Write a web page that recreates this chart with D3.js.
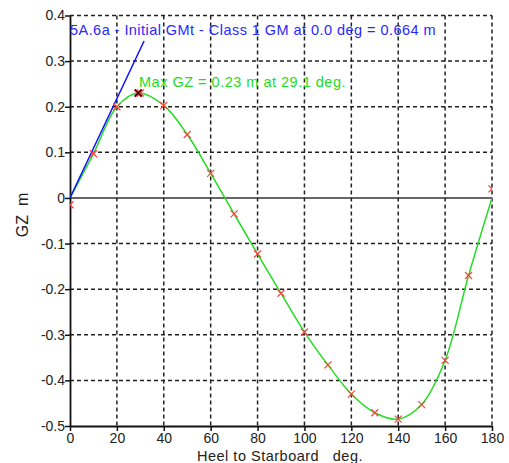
<!DOCTYPE html>
<html>
<head>
<meta charset="utf-8">
<script src="https://cdn.jsdelivr.net/npm/d3@7"></script>
<style>
  body { margin: 0; background: #fff; }
  svg { display: block; font-family: "Liberation Sans", Arial, sans-serif; }
</style>
</head>
<body>
<div id="chart"></div>
<script>
// heel angles (deg) where GZ was sampled, and the GZ values (m)
const heelDeg = [0, 10, 20, 30, 40, 50, 60, 70, 80, 90, 100, 110, 120, 130, 140, 150, 160, 170, 180];
const gzPoints = [-0.015, 0.097, 0.2, 0.23, 0.203, 0.139, 0.054, -0.035, -0.123, -0.209, -0.294,
                  -0.366, -0.43, -0.471, -0.485, -0.453, -0.356, -0.17, 0.02];
// smooth GZ curve nodes
const curveDeg = [0, 10, 20, 29.1, 40, 50, 60, 70, 80, 90, 100, 110, 120, 130, 140, 150, 160, 170, 180];
const curveGz = [0, 0.097, 0.2, 0.23, 0.203, 0.139, 0.054, -0.035, -0.123, -0.209, -0.294,
                 -0.366, -0.43, -0.471, -0.485, -0.453, -0.356, -0.17, 0];
// initial GM line ends
const gmDeg = [0, 31.6];
const gmGz = [0, 0.344];
const maxGz = { deg: 29.1, gz: 0.23 };

const xTicks = [0, 20, 40, 60, 80, 100, 120, 140, 160, 180];
const yTicks = [-0.5, -0.4, -0.3, -0.2, -0.1, 0, 0.1, 0.2, 0.3, 0.4];

const gmLabel = "5A.6a - Initial GMt - Class 1 GM at 0.0 deg = 0.664 m";
const maxLabel = "Max GZ = 0.23 m at 29.1 deg.";
const xTitle = "Heel to Starboard\u00a0\u00a0\u00a0deg.";
const yTitle = "GZ\u00a0\u00a0m";

const W = 509, H = 463;
const svg = d3.select('#chart').append('svg').attr('width', W).attr('height', H);
svg.append('rect').attr('width', W).attr('height', H).attr('fill', '#fff');

const x = d3.scaleLinear().domain([0, 180]).range([70, 492]);
const y = d3.scaleLinear().domain([-0.5, 0.4]).range([426, 15.5]);

// dashed grid
const grid = svg.append('g').attr('stroke', '#222').attr('stroke-width', 1.5)
  .attr('stroke-dasharray', '4,3');
grid.selectAll('line.v').data(xTicks.filter(d => d > 0)).join('line')
  .attr('x1', d => x(d)).attr('x2', d => x(d)).attr('y1', y(0.4)).attr('y2', y(-0.5));
grid.selectAll('line.h').data(yTicks.filter(d => d !== 0 && d > -0.5)).join('line')
  .attr('x1', x(0)).attr('x2', x(180)).attr('y1', d => y(d)).attr('y2', d => y(d));

// zero line
svg.append('line').attr('x1', x(0)).attr('x2', x(180)).attr('y1', y(0)).attr('y2', y(0))
  .attr('stroke', '#333').attr('stroke-width', 1.5);

// axes
const xAxis = svg.append('g').attr('transform', `translate(0,${y(-0.5)})`)
  .call(d3.axisBottom(x).tickValues(xTicks).tickSize(5).tickSizeOuter(0).tickFormat(d3.format('d')));
const yAxis = svg.append('g').attr('transform', `translate(${x(0)},0)`)
  .call(d3.axisLeft(y).tickValues(yTicks).tickSize(5).tickSizeOuter(0).tickFormat(d => d === 0 ? '0' : d3.format('.1f')(d).replace('\u2212', '-')));
[xAxis, yAxis].forEach(a => {
  a.select('.domain').attr('stroke', '#111').attr('stroke-width', 1.8);
  a.selectAll('.tick line').attr('stroke', '#111').attr('stroke-width', 1.5);
  a.selectAll('text').attr('fill', '#222').style('font-size', '14px');
});
xAxis.selectAll('text').attr('dy', '0.9em').attr('y', 4);
yAxis.selectAll('text').attr('x', -5);

// clip for plot
svg.append('clipPath').attr('id', 'plot').append('rect')
  .attr('x', x(0)).attr('y', y(0.4)).attr('width', x(180) - x(0)).attr('height', y(-0.5) - y(0.4));
const plot = svg.append('g').attr('clip-path', 'url(#plot)');

// GZ curve
const line = d3.line().x(d => x(d[0])).y(d => y(d[1])).curve(d3.curveCatmullRom.alpha(0.5));
plot.append('path').datum(curveDeg.map((d, i) => [d, curveGz[i]]))
  .attr('d', line).attr('fill', 'none').attr('stroke', '#22dd22').attr('stroke-width', 1.5);

// GM line
plot.append('path').datum(gmDeg.map((d, i) => [d, gmGz[i]]))
  .attr('d', d3.line().x(d => x(d[0])).y(d => y(d[1])))
  .attr('stroke', '#1010ff').attr('stroke-width', 1.5).attr('fill', 'none');

// markers
const s = 3.5;
const cross = (g, color, w) => g.append('path')
  .attr('d', `M${-s},${-s}L${s},${s}M${-s},${s}L${s},${-s}`)
  .attr('stroke', color).attr('stroke-width', w).attr('fill', 'none');
plot.selectAll('g.m').data(heelDeg.map((d, i) => [d, gzPoints[i]])).join('g')
  .attr('transform', d => `translate(${x(d[0])},${y(d[1])})`)
  .each(function () { cross(d3.select(this), '#ff4040', 1.2); });
const mx = plot.append('g').attr('transform', `translate(${x(maxGz.deg)},${y(maxGz.gz)})`);
cross(mx, '#ff4040', 2.5);
cross(mx, '#300000', 1.5);

// annotations
svg.append('text').attr('x', 70).attr('y', 35).text(gmLabel)
  .attr('fill', '#2828ff').style('font-size', '14.5px').style('letter-spacing', '0.45px');
svg.append('text').attr('x', 139).attr('y', 87).text(maxLabel)
  .attr('fill', '#22dd22').style('font-size', '14.5px').style('letter-spacing', '0.5px');

// axis titles
svg.append('text').attr('x', 280).attr('y', 461).attr('text-anchor', 'middle')
  .text(xTitle).attr('fill', '#222').style('font-size', '14.5px').style('letter-spacing', '0.5px');
svg.append('text').attr('transform', 'translate(28,215) rotate(-90)').attr('text-anchor', 'middle')
  .text(yTitle).attr('fill', '#222').style('font-size', '16px');
</script>
</body>
</html>
